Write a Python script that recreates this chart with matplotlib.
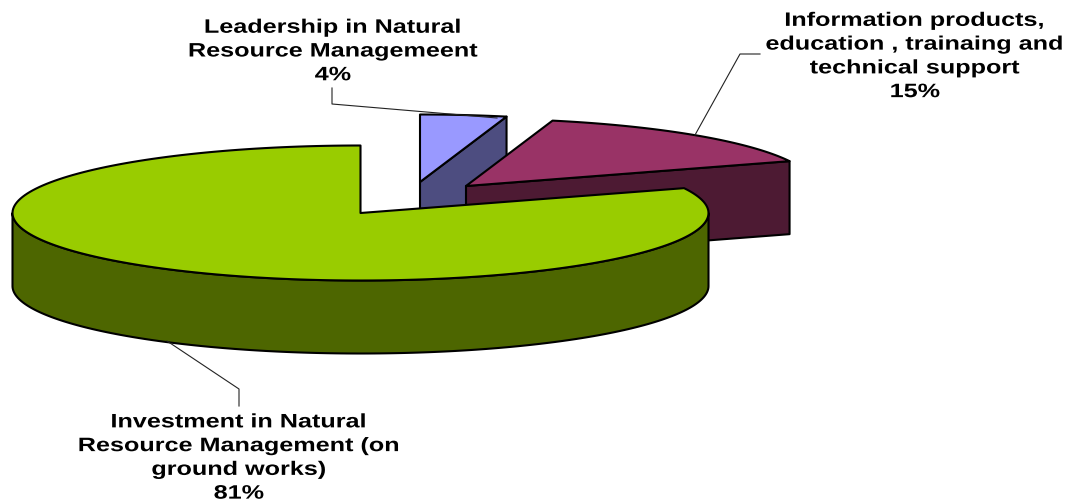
import numpy as np
import matplotlib
matplotlib.use("Agg")
import matplotlib.pyplot as plt
import matplotlib.patheffects as pe
from matplotlib.patches import Polygon
from matplotlib.transforms import Affine2D

categories = ["Leadership in Natural\nResource Managemeent",
              "Information products,\neducation , trainaing and\ntechnical support",
              "Investment in Natural\nResource Management (on\nground works)"]
shares = [4, 15, 81]
top_colors = ["#9999FF", "#993366", "#99CC00"]
wall_colors = ["#4D4D80", "#4D1A33", "#4D6600"]
centers = [(420, 183), (466, 187), (360.5, 214)]
label_pos = [(333, 53), (915, 58), (239, 459.5)]
leaders = [[(332, 89), (332, 105), (497, 119)],
           [(695, 136), (740, 55), (760, 55)],
           [(167, 342), (239, 390), (239, 407)]]

RX, RY, DEPTH = 348, 67.5, 73
EDGE = dict(edgecolor="black", linewidth=1.5, joinstyle="round")
STRETCH = 1.295


class StretchX(pe.AbstractPathEffect):
    """Draw real text widened horizontally about a fixed pixel column."""

    def __init__(self, cx, sx):
        super().__init__()
        self.cx, self.sx = cx, sx

    def draw_path(self, renderer, gc, tpath, affine, rgbFace=None):
        wide = affine + Affine2D().translate(-self.cx, 0).scale(self.sx, 1).translate(self.cx, 0)
        renderer.draw_path(gc, tpath, wide, rgbFace)


fig = plt.figure(figsize=(10.7, 5.02), dpi=100)
ax = fig.add_axes([0, 0, 1, 1])
ax.set_xlim(0, 1070)
ax.set_ylim(502, 0)
ax.axis("off")


def rim(c, a0, a1, n=200):
    t = np.linspace(a0, a1, n)
    return np.column_stack([c[0] + RX * np.sin(t), c[1] - RY * np.cos(t)])


fractions = np.cumsum([0] + shares) / sum(shares) * 2 * np.pi
for i in range(len(shares)):
    a0, a1 = fractions[i], fractions[i + 1]
    c = centers[i]
    down = np.array([0, DEPTH])
    arc = rim(c, a0, a1)
    if i < 2:
        p = rim(c, a1, a1, 1)[0]
        quad = np.array([c, p, p + down, np.array(c) + down])
        ax.add_patch(Polygon(quad, closed=True, facecolor=wall_colors[i], zorder=2 * i + 1, **EDGE))
    else:
        front = rim(c, max(a0, np.pi / 2), min(a1, 3 * np.pi / 2))
        wall = np.vstack([front, (front + down)[::-1]])
        ax.add_patch(Polygon(wall, closed=True, facecolor=wall_colors[i], zorder=2 * i + 1, **EDGE))
    top = np.vstack([[c], arc])
    ax.add_patch(Polygon(top, closed=True, facecolor=top_colors[i], zorder=2 * i + 2, **EDGE))

for pts in leaders:
    xs, ys = zip(*pts)
    ax.plot(xs, ys, color="#222222", lw=0.8, zorder=10)

for cat, s, (x, y) in zip(categories, shares, label_pos):
    cx = ax.transData.transform((x, y))[0]
    ax.text(x, y, f"{cat}\n{s}%", ha="center", va="center", family="Liberation Sans",
            weight="bold", fontsize=14, linespacing=1.52, color="black", zorder=11,
            path_effects=[StretchX(cx, STRETCH)])

fig.savefig("out.png", dpi=100)
